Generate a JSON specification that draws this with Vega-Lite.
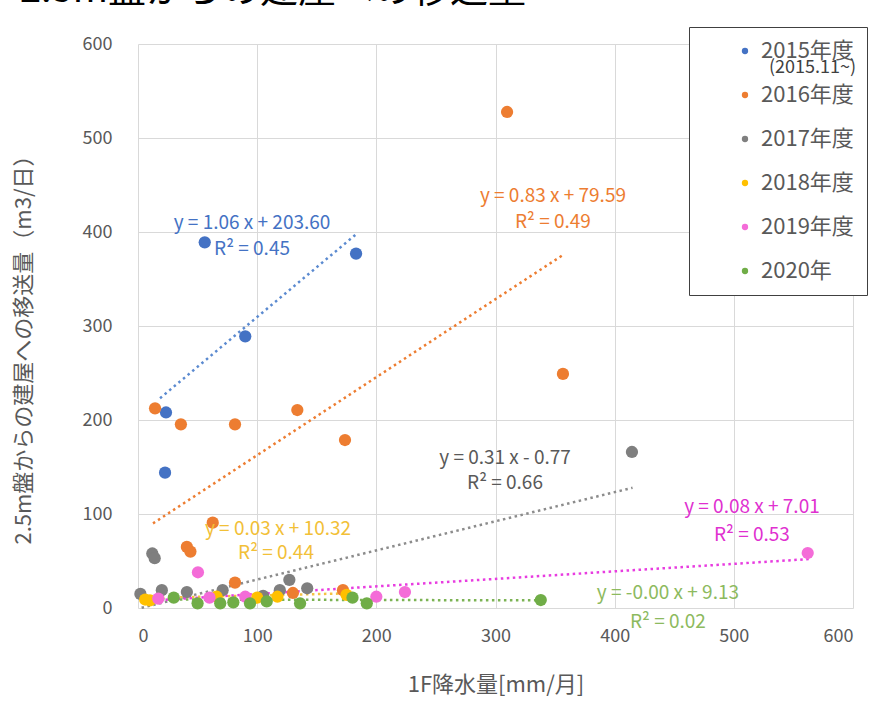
{
  "$schema": "https://vega.github.io/schema/vega-lite/v6.json",
  "autosize": {"type": "none"},
  "width": 715,
  "height": 564,
  "padding": {"left": 138, "top": 44, "right": 39, "bottom": 94},
  "background": "white",
  "config": {
    "font": "Noto Sans CJK JP",
    "view": {"stroke": null},
    "axis": {
      "gridColor": "#D9D9D9",
      "gridWidth": 1,
      "domain": false,
      "ticks": false,
      "labelFontSize": 18,
      "labelColor": "#595959",
      "titleColor": "#595959",
      "titleFontWeight": "normal"
    }
  },
  "title": {
    "text": "2.5m盤からの建屋への移送量",
    "anchor": "start",
    "frame": "group",
    "fontSize": 38,
    "fontWeight": "normal",
    "color": "#000000",
    "dx": -118,
    "offset": 17
  },
  "datasets": {
    "pts": [
      {"year": "2015年度", "x": 56, "y": 389},
      {"year": "2015年度", "x": 183, "y": 377},
      {"year": "2015年度", "x": 90, "y": 289},
      {"year": "2015年度", "x": 23.5, "y": 208},
      {"year": "2015年度", "x": 22.7, "y": 144},
      {"year": "2016年度", "x": 309.7, "y": 527.7},
      {"year": "2016年度", "x": 356.6, "y": 249},
      {"year": "2016年度", "x": 14.3, "y": 212.4},
      {"year": "2016年度", "x": 36, "y": 195.4},
      {"year": "2016年度", "x": 81.4, "y": 195.4},
      {"year": "2016年度", "x": 133.7, "y": 210.6},
      {"year": "2016年度", "x": 173.7, "y": 178.7},
      {"year": "2016年度", "x": 62.7, "y": 90.8},
      {"year": "2016年度", "x": 41, "y": 65},
      {"year": "2016年度", "x": 44, "y": 60},
      {"year": "2016年度", "x": 81.4, "y": 27},
      {"year": "2016年度", "x": 130, "y": 16},
      {"year": "2016年度", "x": 172, "y": 19},
      {"year": "2017年度", "x": 414.5, "y": 166},
      {"year": "2017年度", "x": 12, "y": 58},
      {"year": "2017年度", "x": 14, "y": 53},
      {"year": "2017年度", "x": 2, "y": 15},
      {"year": "2017年度", "x": 20, "y": 19},
      {"year": "2017年度", "x": 41, "y": 17},
      {"year": "2017年度", "x": 71, "y": 19},
      {"year": "2017年度", "x": 119, "y": 19},
      {"year": "2017年度", "x": 127, "y": 30},
      {"year": "2017年度", "x": 142, "y": 21},
      {"year": "2017年度", "x": 105, "y": 13},
      {"year": "2018年度", "x": 6, "y": 9},
      {"year": "2018年度", "x": 10, "y": 8},
      {"year": "2018年度", "x": 66, "y": 12},
      {"year": "2018年度", "x": 117, "y": 12},
      {"year": "2018年度", "x": 175, "y": 14},
      {"year": "2018年度", "x": 100, "y": 11},
      {"year": "2019年度", "x": 17, "y": 10},
      {"year": "2019年度", "x": 50.3, "y": 38},
      {"year": "2019年度", "x": 60, "y": 11},
      {"year": "2019年度", "x": 90, "y": 12},
      {"year": "2019年度", "x": 200, "y": 12},
      {"year": "2019年度", "x": 224, "y": 17},
      {"year": "2019年度", "x": 562, "y": 58.5},
      {"year": "2020年", "x": 30, "y": 11},
      {"year": "2020年", "x": 50, "y": 5},
      {"year": "2020年", "x": 69, "y": 5},
      {"year": "2020年", "x": 80, "y": 6},
      {"year": "2020年", "x": 94, "y": 5},
      {"year": "2020年", "x": 108, "y": 7},
      {"year": "2020年", "x": 136, "y": 5},
      {"year": "2020年", "x": 180, "y": 11},
      {"year": "2020年", "x": 192, "y": 5},
      {"year": "2020年", "x": 338, "y": 8.5}
    ],
    "trend": [
      {"year": "2015年度", "x": 18.5, "y": 223.2},
      {"year": "2015年度", "x": 184, "y": 398.6},
      {"year": "2016年度", "x": 12.6, "y": 90.0},
      {"year": "2016年度", "x": 358, "y": 376.7},
      {"year": "2017年度", "x": 3, "y": 0.2},
      {"year": "2017年度", "x": 415, "y": 127.9},
      {"year": "2018年度", "x": 5, "y": 10.5},
      {"year": "2018年度", "x": 180, "y": 15.7},
      {"year": "2019年度", "x": 8, "y": 7.6},
      {"year": "2019年度", "x": 565, "y": 52.2},
      {"year": "2020年", "x": 10, "y": 9.1},
      {"year": "2020年", "x": 340, "y": 8.1}
    ],
    "labels": [
      {"year": "2015年度", "x": 95.7, "y": 409.6, "text": "y = 1.06 x + 203.60"},
      {"year": "2015年度", "x": 95.7, "y": 381.9, "text": "R² = 0.45"},
      {"year": "2016年度", "x": 348.2, "y": 438.3, "text": "y = 0.83 x + 79.59"},
      {"year": "2016年度", "x": 348.2, "y": 410.6, "text": "R² = 0.49"},
      {"year": "2017年度", "x": 308, "y": 159.6, "text": "y = 0.31 x - 0.77"},
      {"year": "2017年度", "x": 308, "y": 133, "text": "R² = 0.66"},
      {"year": "2018年度", "x": 117.5, "y": 84, "text": "y = 0.03 x + 10.32"},
      {"year": "2018年度", "x": 115.8, "y": 58.5, "text": "R² = 0.44"},
      {"year": "2019年度", "x": 515.2, "y": 107.4, "text": "y = 0.08 x + 7.01"},
      {"year": "2019年度", "x": 515.2, "y": 77.7, "text": "R² = 0.53"},
      {"year": "2020年", "x": 444.7, "y": 16, "text": "y = -0.00 x + 9.13"},
      {"year": "2020年", "x": 444.7, "y": -14.9, "text": "R² = 0.02"}
    ]
  },
  "layer": [
    {
      "data": {"name": "trend"},
      "mark": {"type": "line", "strokeWidth": 2.5},
      "encoding": {
        "x": {"field": "x", "type": "quantitative", "scale": {"domain": [0, 600], "nice": false},
          "axis": {"values": [0, 100, 200, 300, 400, 500, 600], "labelPadding": 19, "title": "1F降水量[mm/月]", "titleFontSize": 22, "titlePadding": 29}},
        "y": {"field": "y", "type": "quantitative", "scale": {"domain": [0, 600], "nice": false},
          "axis": {"values": [0, 100, 200, 300, 400, 500, 600], "labelPadding": 26, "title": "2.5m盤からの建屋への移送量（m3/日）", "titleFontSize": 22, "titlePadding": 47, "titleY": 300}},
        "detail": {"field": "year"},
        "strokeDash": {"datum": "(2015.11~)", "type": "nominal",
          "scale": {"domain": ["(2015.11~)"], "range": [[2.5, 3.5]]},
          "legend": {
            "orient": "none",
            "legendX": 613,
            "legendY": 15,
            "zindex": 5,
            "title": null,
            "padding": 0,
            "symbolSize": 0,
            "symbolStrokeWidth": 0,
            "symbolOpacity": 0,
            "labelOffset": 0,
            "labelFontSize": 18,
            "labelColor": "#404040"
          }
        },
        "color": {"field": "year", "type": "nominal", "legend": null,
          "scale": {"domain": ["2015年度", "2016年度", "2017年度", "2018年度", "2019年度", "2020年"],
            "range": ["#5B8AD0", "#ED7D31", "#8C8C8C", "#F5C242", "#E83CE0", "#7CB354"]}}
      }
    },
    {
      "data": {"name": "pts"},
      "mark": {"type": "circle", "size": 150, "opacity": 1},
      "encoding": {
        "x": {"field": "x", "type": "quantitative"},
        "y": {"field": "y", "type": "quantitative"},
        "color": {"field": "year", "type": "nominal",
          "scale": {"domain": ["2015年度", "2016年度", "2017年度", "2018年度", "2019年度", "2020年"],
            "range": ["#4472C4", "#ED7D31", "#7F7F7F", "#FFC000", "#F46CD8", "#70AD47"]},
          "legend": {
            "orient": "none",
            "legendX": 551,
            "legendY": -17,
            "zindex": 1,
            "title": null,
            "fillColor": "white",
            "strokeColor": "#404040",
            "padding": 13,
            "symbolType": "circle",
            "symbolSize": 40,
            "symbolOffset": 32,
            "labelOffset": 5,
            "labelFontSize": 22,
            "labelColor": "#595959",
            "rowPadding": 22
          }
        }
      }
    },
    {
      "data": {"name": "labels"},
      "mark": {"type": "text", "fontSize": 19, "align": "center", "baseline": "middle"},
      "encoding": {
        "x": {"field": "x", "type": "quantitative"},
        "y": {"field": "y", "type": "quantitative"},
        "text": {"field": "text"},
        "color": {"field": "year", "type": "nominal", "legend": null,
          "scale": {"domain": ["2015年度", "2016年度", "2017年度", "2018年度", "2019年度", "2020年"],
            "range": ["#4472C4", "#ED7D31", "#595959", "#F2C037", "#E030D0", "#8DBA5E"]}}
      }
    }
  ],
  "resolve": {"scale": {"color": "independent", "strokeDash": "independent"}}
}
